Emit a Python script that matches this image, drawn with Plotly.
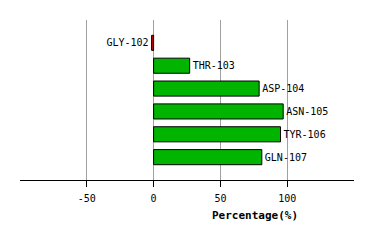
import plotly.graph_objects as go

residues = ["GLY-102", "THR-103", "ASP-104", "ASN-105", "TYR-106", "GLN-107"]
percentages = [-1.5, 27, 79, 97, 95, 81]
x_ticks = [-50, 0, 50, 100]

colors = ["#cc0000" if v < 0 else "#00b400" for v in percentages]

fig = go.Figure(go.Bar(
    y=list(range(len(residues))),
    x=percentages,
    orientation="h",
    marker=dict(color=colors, line=dict(color="black", width=1)),
    width=0.66,
    text=residues,
    textposition="outside",
    textfont=dict(family="DejaVu Sans Mono", size=10, color="black"),
    cliponaxis=False,
))

fig.update_layout(
    width=374, height=240,
    margin=dict(l=20, r=20, t=20, b=60),
    plot_bgcolor="white", paper_bgcolor="white",
    showlegend=False,
    font=dict(family="DejaVu Sans Mono", size=10, color="black"),
    xaxis=dict(
        range=[-100, 150],
        tickvals=x_ticks,
        ticktext=[str(v) for v in x_ticks],
        showgrid=True, gridcolor="#a0a0a0", gridwidth=1,
        zeroline=False,
        showline=True, linecolor="black", linewidth=1,
        ticks="outside", ticklen=6, tickcolor="black",
        ticklabelstandoff=3,
        tickfont=dict(family="DejaVu Sans Mono", size=10),
        fixedrange=True,
    ),
    yaxis=dict(
        range=[6, -1],
        showticklabels=False, showgrid=False, zeroline=False,
        showline=False, ticks="",
    ),
    annotations=[dict(
        text="<b>Percentage(%)</b>", x=0.703, y=-0.219, xref="paper", yref="paper",
        showarrow=False, xanchor="center", yanchor="middle",
        font=dict(family="DejaVu Sans Mono", size=11, color="black"),
    )],
)

fig.write_html("out.html")
